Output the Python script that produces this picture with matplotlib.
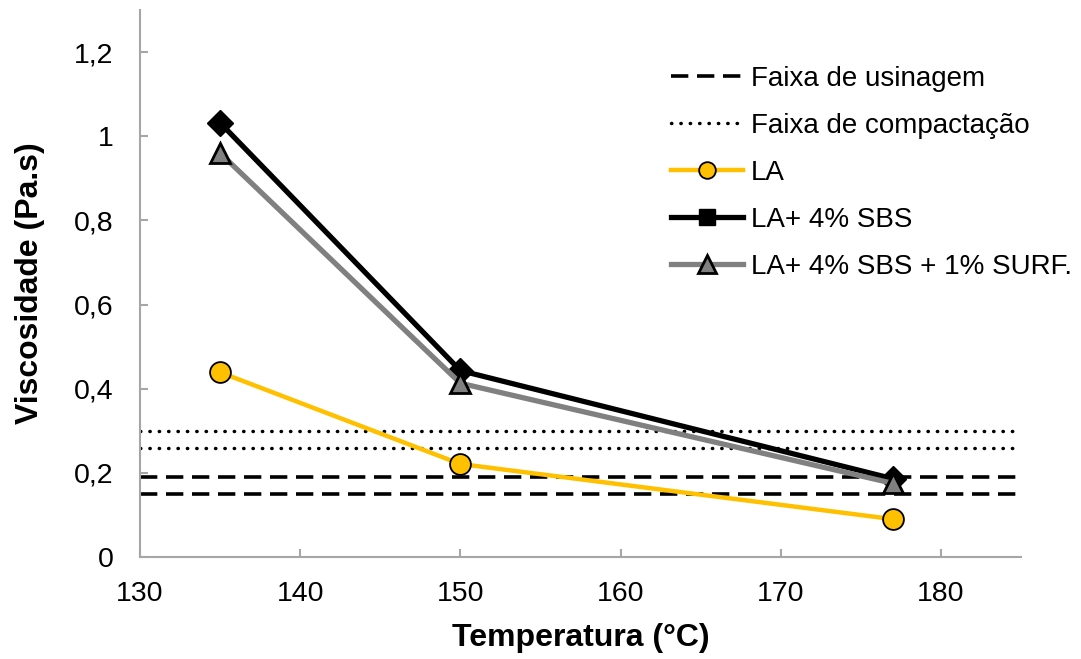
import numpy as np
import matplotlib
matplotlib.use("Agg")
import matplotlib.pyplot as plt
from matplotlib.lines import Line2D
from matplotlib.ticker import FuncFormatter

plt.rcParams['font.family'] = ['Liberation Sans', 'DejaVu Sans']

temps = [135, 150, 177]
visc_la = [0.439, 0.221, 0.090]
visc_sbs = [1.032, 0.443, 0.186]
visc_surf = [0.960, 0.413, 0.175]
faixa_usinagem = [0.15, 0.19]
faixa_compactacao = [0.26, 0.30]

fig = plt.figure(figsize=(10.81, 6.59), dpi=100)
ax = fig.add_axes([0.1295, 0.1548, 0.815, 0.83])

dot_style = (0, (0.1, 2.6))
for y in faixa_usinagem:
    ax.axhline(y, color='black', lw=2.6, ls=(0, (4.8, 2.4)), zorder=2)
for y in faixa_compactacao:
    ax.axhline(y, color='black', lw=2.5, ls=dot_style, dash_capstyle='round', zorder=2)

ax.plot(temps, visc_la, color='#FFC000', lw=3.2, marker='o', ms=15,
        mfc='#FFC000', mec='black', mew=1.3, zorder=3)
ax.plot(temps, visc_sbs, color='black', lw=3.8, marker='D', ms=13,
        mfc='black', mec='black', zorder=4)
ax.plot(temps, visc_surf, color='#808080', lw=3.8, marker='^', ms=15,
        mfc='#808080', mec='black', mew=2, zorder=5)

ax.set_xlim(130, 185)
ax.set_ylim(0, 1.3)
ax.set_xticks([130, 140, 150, 160, 170, 180])
ax.set_yticks([0, 0.2, 0.4, 0.6, 0.8, 1.0, 1.2])
ax.yaxis.set_major_formatter(FuncFormatter(lambda v, p: ('%g' % round(v, 2)).replace('.', ',')))

for s in ['top', 'right']:
    ax.spines[s].set_visible(False)
for s in ['left', 'bottom']:
    ax.spines[s].set_color('#A6A6A6')
    ax.spines[s].set_linewidth(1.5)
ax.tick_params(direction='in', length=6, width=1.5, color='#A6A6A6', labelsize=20.5)
ax.tick_params(axis='y', pad=19)
ax.tick_params(axis='x', pad=17)

ax.set_xlabel('Temperatura (°C)', fontsize=23, fontweight='bold', labelpad=12)
ax.set_ylabel('Viscosidade (Pa.s)', fontsize=23, fontweight='bold', labelpad=21)

handles = [
    Line2D([], [], color='black', lw=2.6, ls=(0, (4.8, 2.4))),
    Line2D([], [], color='black', lw=2.5, ls=dot_style, dash_capstyle='round'),
    Line2D([], [], color='#FFC000', lw=3.2, marker='o', ms=12, mfc='#FFC000', mec='black', mew=1.3),
    Line2D([], [], color='black', lw=3.8, marker='s', ms=12, mfc='black', mec='black'),
    Line2D([], [], color='#808080', lw=3.8, marker='^', ms=13, mfc='#808080', mec='black', mew=2),
]
labels = ['Faixa de usinagem', 'Faixa de compactação', 'LA', 'LA+ 4% SBS', 'LA+ 4% SBS + 1% SURF.']
ax.legend(handles, labels, loc='upper left', bbox_to_anchor=(0.574, 0.943), frameon=False,
          fontsize=20, handlelength=2.6, handletextpad=0.3, labelspacing=0.75)

fig.savefig('out.png', dpi=100)
